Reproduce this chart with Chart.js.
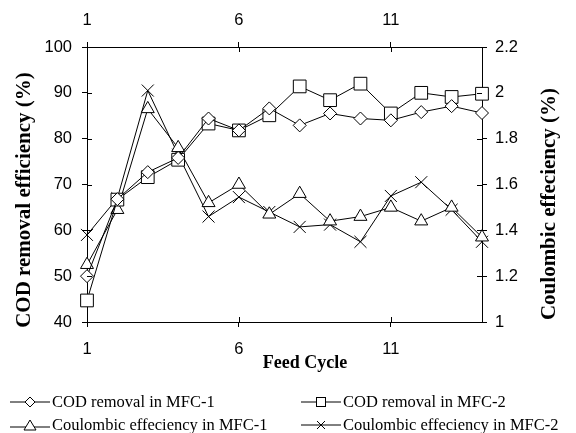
<!DOCTYPE html>
<html>
<head>
<meta charset="utf-8">
<script src="https://cdn.jsdelivr.net/npm/chart.js@4.4.1/dist/chart.umd.min.js"></script>
<style>
  body { margin: 0; background: #fff; }
  #wrap { position: relative; width: 576px; height: 433px; }
  #chart { position: absolute; left: 0; top: 0; }
  .item {
    position: absolute; display: flex; align-items: center; height: 22px;
    font: 16.5px "Liberation Serif", "Times New Roman", serif; color: #000; white-space: nowrap;
  }
  .item svg { margin-right: 2px; }
</style>
</head>
<body>
<div id="wrap">
  <canvas id="chart" width="576" height="433"></canvas>
  <div class="item" style="left:10px;top:391px">
    <svg width="40" height="14"><line x1="0" y1="7" x2="40" y2="7" stroke="#000"/><polygon points="20,2 25,7 20,12 15,7" fill="#fff" stroke="#000"/></svg>COD removal in MFC-1
  </div>
  <div class="item" style="left:301px;top:391px">
    <svg width="40" height="14"><line x1="0" y1="7" x2="40" y2="7" stroke="#000"/><rect x="15.5" y="2.5" width="9" height="9" fill="#fff" stroke="#000"/></svg>COD removal in MFC-2
  </div>
  <div class="item" style="left:10px;top:414px">
    <svg width="40" height="14"><line x1="0" y1="9" x2="40" y2="9" stroke="#000"/><polygon points="20,2 26,12 14,12" fill="#fff" stroke="#000"/></svg>Coulombic effeciency in MFC-1
  </div>
  <div class="item" style="left:301px;top:414px">
    <svg width="40" height="14"><line x1="0" y1="7" x2="40" y2="7" stroke="#000"/><path d="M16 3 L24 11 M24 3 L16 11" stroke="#000"/></svg>Coulombic effeciency in MFC-2
  </div>
</div>
<script>
const cycles = [1, 2, 3, 4, 5, 6, 7, 8, 9, 10, 11, 12, 13, 14];
const codMfc1 = [50, 66.8, 72.7, 75.8, 84.4, 81.8, 86.6, 82.9, 85.5, 84.4, 84.0, 85.8, 87.1, 85.6];
const codMfc2 = [44.7, 66.7, 71.6, 75.4, 83.3, 81.8, 85.1, 91.4, 88.4, 92.0, 85.5, 90.0, 89.1, 89.8];
const ceMfc1 = [1.25, 1.49, 1.93, 1.76, 1.52, 1.60, 1.47, 1.56, 1.44, 1.46, 1.50, 1.44, 1.50, 1.37];
const ceMfc2 = [1.38, 1.54, 2.01, 1.73, 1.46, 1.545, 1.48, 1.415, 1.425, 1.35, 1.55, 1.61, 1.49, 1.35];
const xTickValues = [1, 6, 11];

const tickFont = { family: 'Liberation Sans, Arial, sans-serif', size: 16.5 };
const serif = '"Liberation Serif", "Times New Roman", serif';

function toPoints(values) {
  return cycles.map((c, i) => ({ x: c, y: values[i] }));
}

function series(label, values, style, radius, axis) {
  return {
    label: label,
    data: toPoints(values),
    yAxisID: axis,
    clip: false,
    borderColor: '#000',
    borderWidth: 1,
    tension: 0,
    pointStyle: style,
    pointRadius: radius,
    pointHoverRadius: radius,
    pointBackgroundColor: '#fff',
    pointBorderColor: '#000',
    pointBorderWidth: 1
  };
}

function axisLook(pad) {
  return {
    grid: { drawOnChartArea: false, drawTicks: true, tickLength: 5, color: '#000' },
    border: { color: '#000', width: 1 },
    ticks: { color: '#000', font: tickFont, padding: pad }
  };
}

// titles are drawn by hand (the original has them off-centre) plus inner half of the tick marks
const extras = {
  id: 'extras',
  afterDraw(chart) {
    const ctx = chart.ctx;
    const a = chart.chartArea;
    ctx.save();
    ctx.strokeStyle = '#000';
    ctx.lineWidth = 1;
    ctx.beginPath();
    chart.scales.x.ticks.forEach(t => {
      const px = Math.round(chart.scales.x.getPixelForValue(t.value)) + 0.5;
      ctx.moveTo(px, a.bottom); ctx.lineTo(px, a.bottom - 5);
      ctx.moveTo(px, a.top); ctx.lineTo(px, a.top + 5);
    });
    chart.scales.y.ticks.forEach(t => {
      const py = Math.round(chart.scales.y.getPixelForValue(t.value)) + 0.5;
      ctx.moveTo(a.left, py); ctx.lineTo(a.left + 5, py);
    });
    chart.scales.y1.ticks.forEach(t => {
      const py = Math.round(chart.scales.y1.getPixelForValue(t.value)) + 0.5;
      ctx.moveTo(a.right, py); ctx.lineTo(a.right - 5, py);
    });
    ctx.stroke();

    ctx.fillStyle = '#000';
    ctx.textAlign = 'center';
    ctx.textBaseline = 'middle';
    ctx.font = 'bold 18px ' + serif;
    ctx.fillText('Feed Cycle', 305, 363);

    ctx.font = 'bold 21px ' + serif;
    ctx.translate(25, 200);
    ctx.rotate(-Math.PI / 2);
    ctx.fillText('COD removal efficiency (%)', 0, 0);
    ctx.restore();

    ctx.save();
    ctx.fillStyle = '#000';
    ctx.textAlign = 'center';
    ctx.textBaseline = 'middle';
    ctx.font = 'bold 21px ' + serif;
    ctx.translate(550, 204);
    ctx.rotate(-Math.PI / 2);
    ctx.fillText('Coulombic effeciency (%)', 0, 0);
    ctx.restore();
  }
};

const setTicks = scale => { scale.ticks = xTickValues.map(v => ({ value: v })); };

new Chart(document.getElementById('chart'), {
  type: 'line',
  data: {
    datasets: [
      series('COD removal in MFC-1', codMfc1, 'rectRot', 6.5, 'y'),
      series('COD removal in MFC-2', codMfc2, 'rect', 9, 'y'),
      series('Coulombic effeciency in MFC-1', ceMfc1, 'triangle', 7.5, 'y1'),
      series('Coulombic effeciency in MFC-2', ceMfc2, 'crossRot', 8.5, 'y1')
    ]
  },
  options: {
    responsive: false,
    animation: false,
    layout: { padding: 0 },
    plugins: { legend: { display: false }, tooltip: { enabled: false } },
    scales: {
      x: Object.assign(axisLook(13), {
        type: 'linear', position: 'bottom', min: 1, max: 14,
        afterBuildTicks: setTicks,
        afterFit: s => { s.height = 111; }
      }),
      xTop: Object.assign(axisLook(12), {
        type: 'linear', position: 'top', min: 1, max: 14,
        afterBuildTicks: setTicks,
        afterFit: s => { s.height = 47; }
      }),
      y: Object.assign(axisLook(10), {
        type: 'linear', position: 'left', min: 40, max: 100,
        afterFit: s => { s.width = 87; }
      }),
      y1: Object.assign(axisLook(8), {
        type: 'linear', position: 'right', min: 1, max: 2.2,
        afterFit: s => { s.width = 94; }
      })
    }
  },
  plugins: [extras]
});
// step sizes and number format set after, keeps axisLook shared
const ch = Chart.getChart('chart');
ch.options.scales.y.ticks.stepSize = 10;
ch.options.scales.y1.ticks.stepSize = 0.2;
ch.options.scales.y1.ticks.callback = v => String(+v.toFixed(1));
ch.update();
</script>
</body>
</html>
